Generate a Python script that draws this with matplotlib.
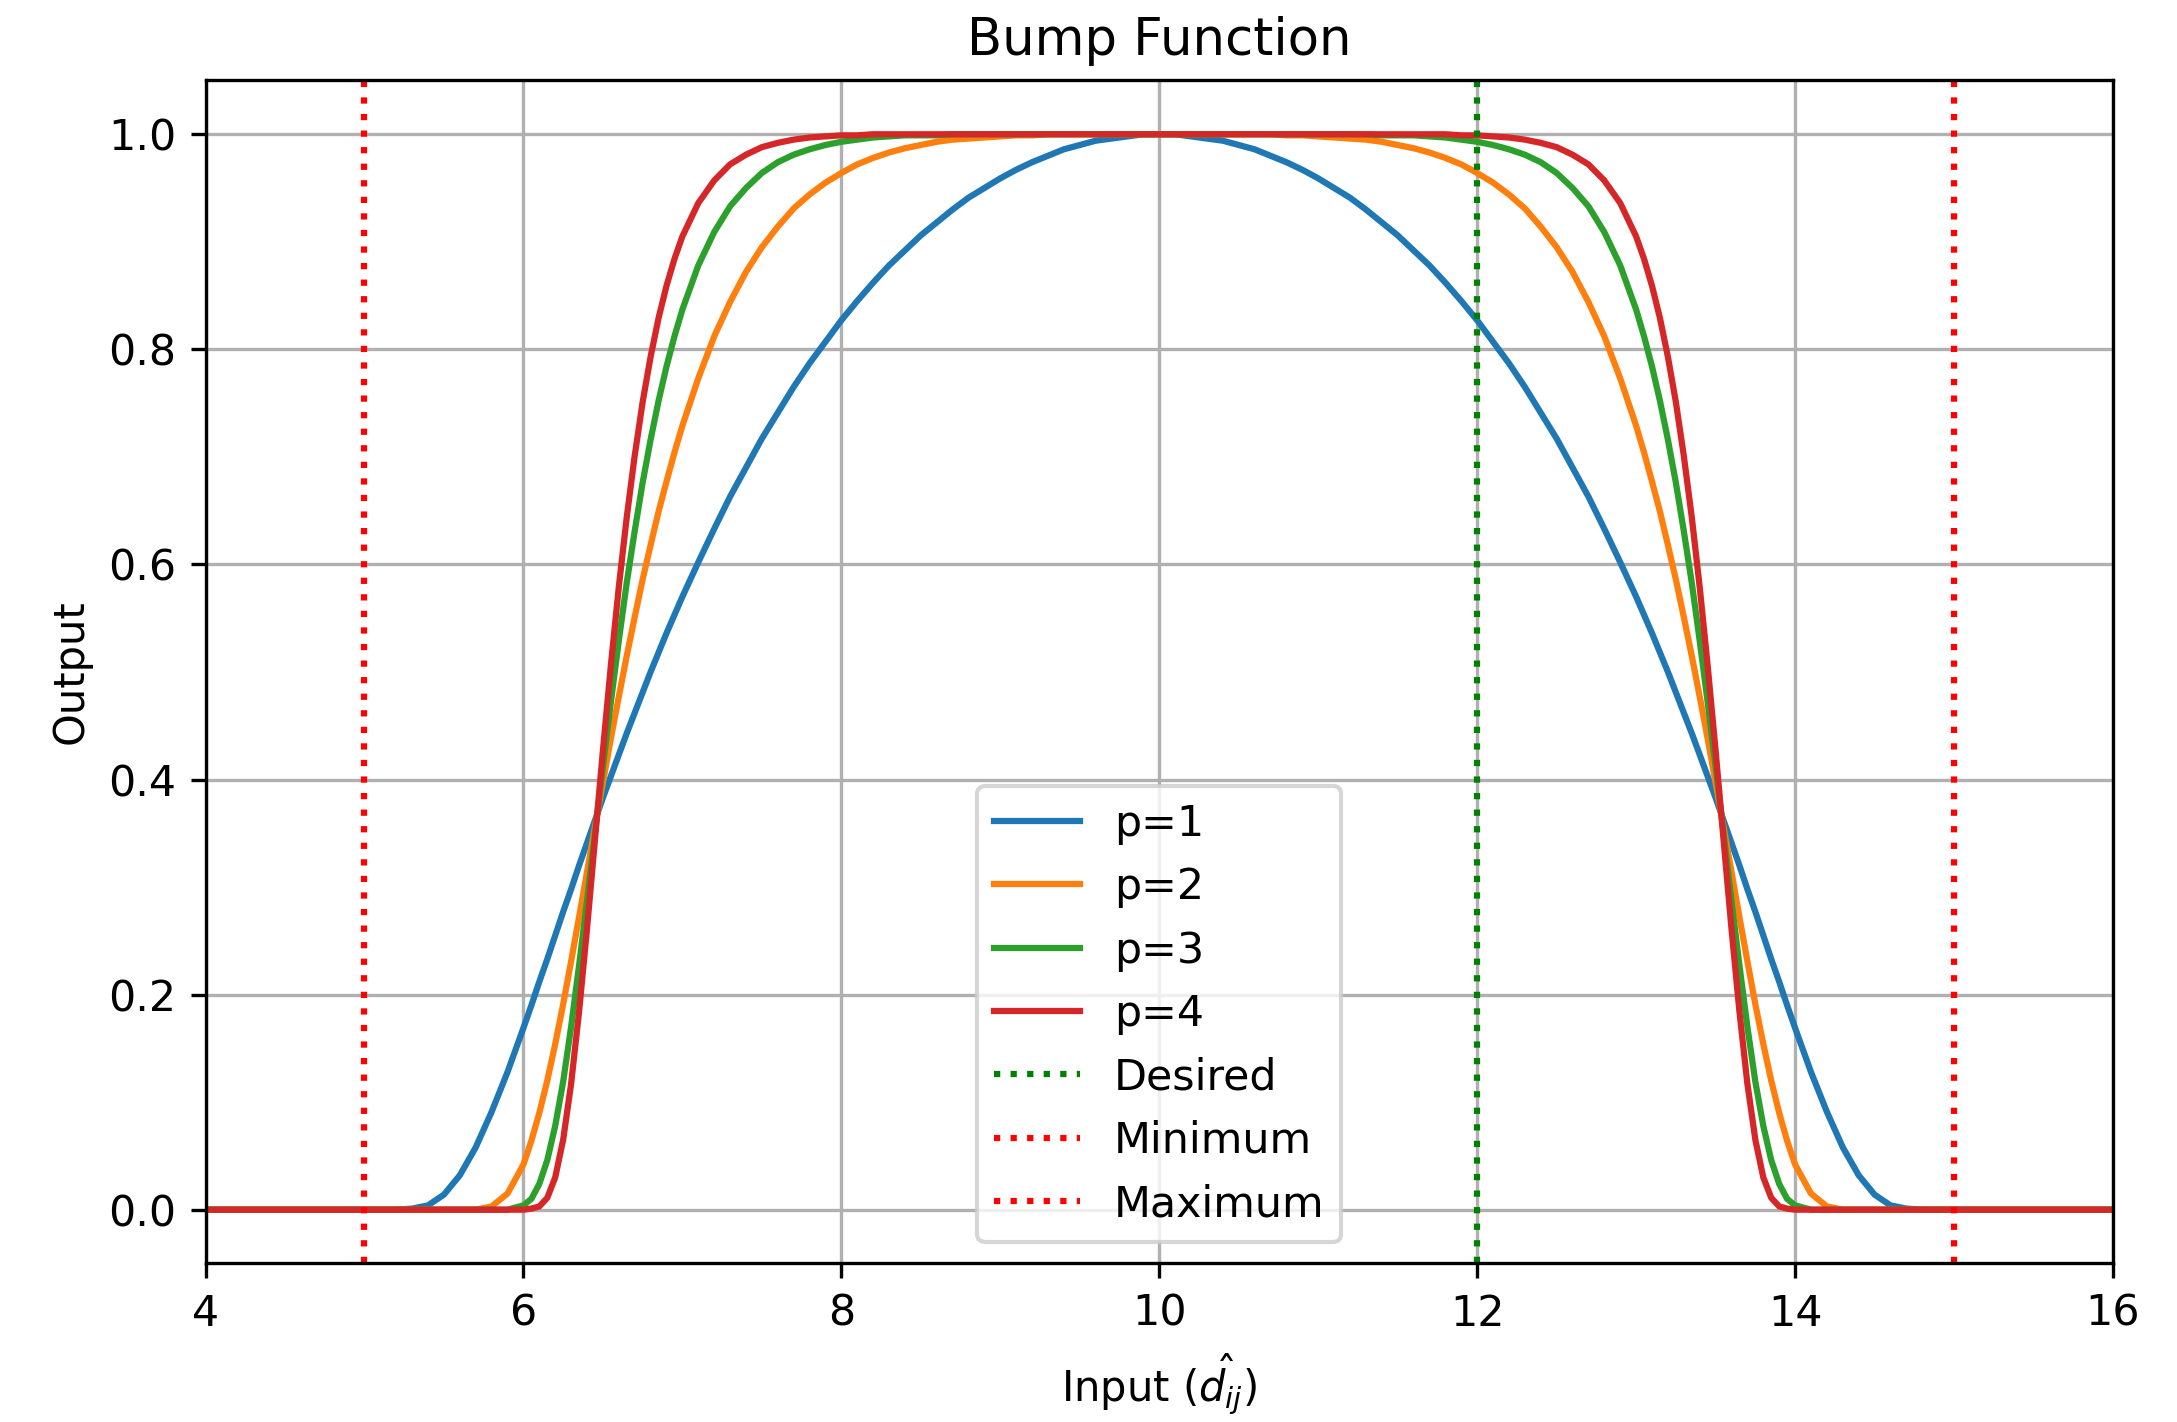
import matplotlib
matplotlib.use("Agg")
import matplotlib.pyplot as plt

# Input positions (x) shared by all curves
x = [4.0, 5.0, 5.2, 5.3, 5.4, 5.5, 5.6, 5.7, 5.8, 5.9,
     6.0, 6.05, 6.1, 6.15, 6.2, 6.25, 6.3, 6.35, 6.4, 6.45, 6.5,
     6.55, 6.6, 6.65, 6.7, 6.75, 6.8, 6.85, 6.9, 6.95, 7.0,
     7.1, 7.2, 7.3, 7.4, 7.5, 7.6, 7.7, 7.8, 7.9, 8.0,
     8.1, 8.2, 8.3, 8.4, 8.5, 8.6, 8.7, 8.8, 8.9, 9.0,
     9.1, 9.2, 9.3, 9.4, 9.5, 9.6, 9.7, 9.8, 9.9,
     10.0,
     10.1, 10.2, 10.3, 10.4, 10.5, 10.6, 10.7, 10.8, 10.9, 11.0,
     11.1, 11.2, 11.3, 11.4, 11.5, 11.6, 11.7, 11.8, 11.9, 12.0,
     12.1, 12.2, 12.3, 12.4, 12.5, 12.6, 12.7, 12.8, 12.9, 13.0,
     13.05, 13.1, 13.15, 13.2, 13.25, 13.3, 13.35, 13.4, 13.45, 13.5,
     13.55, 13.6, 13.65, 13.7, 13.75, 13.8, 13.85, 13.9, 13.95, 14.0,
     14.1, 14.2, 14.3, 14.4, 14.5, 14.6, 14.7, 14.8, 15.0, 16.0]

p1 = ([0.0, 0.0, 0.0, 0.001, 0.004, 0.014, 0.032, 0.058, 0.091, 0.128]
      + [0.169, 0.190, 0.212, 0.233, 0.255, 0.277, 0.298, 0.320, 0.341, 0.362, 0.383,
         0.403, 0.423, 0.443, 0.462, 0.481, 0.500, 0.518, 0.536, 0.553, 0.570]
      + [0.602, 0.633, 0.663, 0.690, 0.717, 0.741, 0.765, 0.787, 0.807, 0.827,
         0.845, 0.862, 0.878, 0.892, 0.906, 0.918, 0.930, 0.941, 0.950, 0.959,
         0.967, 0.974, 0.980, 0.986, 0.990, 0.994, 0.996, 0.998, 1.0]
      + [1.0]
      + [1.0, 0.998, 0.996, 0.994, 0.990, 0.986, 0.980, 0.974, 0.967, 0.959,
         0.950, 0.941, 0.930, 0.918, 0.906, 0.892, 0.878, 0.862, 0.845, 0.827,
         0.807, 0.787, 0.765, 0.741, 0.717, 0.690, 0.663, 0.633, 0.602, 0.570]
      + [0.553, 0.536, 0.518, 0.500, 0.481, 0.462, 0.443, 0.423, 0.403, 0.383,
         0.362, 0.341, 0.320, 0.298, 0.277, 0.255, 0.233, 0.212, 0.190, 0.169]
      + [0.128, 0.091, 0.058, 0.032, 0.014, 0.004, 0.001, 0.0, 0.0, 0.0])

p2 = ([0.0, 0.0, 0.0, 0.0, 0.0, 0.0, 0.0, 0.0, 0.003, 0.015]
      + [0.042, 0.064, 0.090, 0.120, 0.154, 0.191, 0.231, 0.272, 0.314, 0.356, 0.397,
         0.438, 0.477, 0.515, 0.551, 0.586, 0.618, 0.649, 0.677, 0.704, 0.729]
      + [0.773, 0.812, 0.844, 0.872, 0.895, 0.914, 0.931, 0.944, 0.955, 0.964,
         0.972, 0.978, 0.983, 0.987, 0.990, 0.993, 0.995, 0.996, 0.997, 0.998,
         0.999, 0.999, 1.0, 1.0, 1.0, 1.0, 1.0, 1.0, 1.0]
      + [1.0]
      + [1.0, 1.0, 1.0, 1.0, 1.0, 1.0, 1.0, 0.999, 0.999, 0.998,
         0.997, 0.996, 0.995, 0.993, 0.990, 0.987, 0.983, 0.978, 0.972, 0.964,
         0.955, 0.944, 0.931, 0.914, 0.895, 0.872, 0.844, 0.812, 0.773, 0.729]
      + [0.704, 0.677, 0.649, 0.618, 0.586, 0.551, 0.515, 0.477, 0.438, 0.397,
         0.356, 0.314, 0.272, 0.231, 0.191, 0.154, 0.120, 0.090, 0.064, 0.042]
      + [0.015, 0.003, 0.0, 0.0, 0.0, 0.0, 0.0, 0.0, 0.0, 0.0])

p3 = ([0.0, 0.0, 0.0, 0.0, 0.0, 0.0, 0.0, 0.0, 0.0, 0.0]
      + [0.004, 0.010, 0.024, 0.046, 0.078, 0.119, 0.170, 0.227, 0.287, 0.350, 0.412,
         0.472, 0.529, 0.583, 0.631, 0.676, 0.716, 0.752, 0.784, 0.812, 0.837]
      + [0.878, 0.909, 0.933, 0.950, 0.964, 0.974, 0.981, 0.986, 0.990, 0.993,
         0.995, 0.997, 0.998, 0.999, 0.999, 0.999, 1.0, 1.0, 1.0, 1.0,
         1.0, 1.0, 1.0, 1.0, 1.0, 1.0, 1.0, 1.0, 1.0]
      + [1.0]
      + [1.0, 1.0, 1.0, 1.0, 1.0, 1.0, 1.0, 1.0, 1.0, 1.0,
         1.0, 1.0, 1.0, 0.999, 0.999, 0.999, 0.998, 0.997, 0.995, 0.993,
         0.990, 0.986, 0.981, 0.974, 0.964, 0.950, 0.933, 0.909, 0.878, 0.837]
      + [0.812, 0.784, 0.752, 0.716, 0.676, 0.631, 0.583, 0.529, 0.472, 0.412,
         0.350, 0.287, 0.227, 0.170, 0.119, 0.078, 0.046, 0.024, 0.010, 0.004]
      + [0.0, 0.0, 0.0, 0.0, 0.0, 0.0, 0.0, 0.0, 0.0, 0.0])

p4 = ([0.0, 0.0, 0.0, 0.0, 0.0, 0.0, 0.0, 0.0, 0.0, 0.0]
      + [0.0, 0.001, 0.003, 0.011, 0.030, 0.065, 0.117, 0.184, 0.261, 0.344, 0.427,
         0.506, 0.579, 0.644, 0.701, 0.751, 0.793, 0.829, 0.859, 0.884, 0.905]
      + [0.936, 0.957, 0.972, 0.981, 0.988, 0.992, 0.995, 0.997, 0.998, 0.999,
         0.999, 1.0, 1.0, 1.0, 1.0, 1.0, 1.0, 1.0, 1.0, 1.0,
         1.0, 1.0, 1.0, 1.0, 1.0, 1.0, 1.0, 1.0, 1.0]
      + [1.0]
      + [1.0, 1.0, 1.0, 1.0, 1.0, 1.0, 1.0, 1.0, 1.0, 1.0,
         1.0, 1.0, 1.0, 1.0, 1.0, 1.0, 1.0, 1.0, 0.999, 0.999,
         0.998, 0.997, 0.995, 0.992, 0.988, 0.981, 0.972, 0.957, 0.936, 0.905]
      + [0.884, 0.859, 0.829, 0.793, 0.751, 0.701, 0.644, 0.579, 0.506, 0.427,
         0.344, 0.261, 0.184, 0.117, 0.065, 0.030, 0.011, 0.003, 0.001, 0.0]
      + [0.0, 0.0, 0.0, 0.0, 0.0, 0.0, 0.0, 0.0, 0.0, 0.0])

series = [p1, p2, p3, p4]
series_labels = ["p=1", "p=2", "p=3", "p=4"]

desired = 12
minimum = 5
maximum = 15

fig = plt.figure(figsize=(2177 / 300, 1422 / 300), dpi=300)
ax = fig.add_axes([0.0944, 0.1115, 0.8762, 0.8319])

for ys, lab in zip(series, series_labels):
    ax.plot(x, ys, label=lab, linewidth=1.5)

ax.axvline(desired, color="g", linestyle=":", label="Desired")
ax.axvline(minimum, color="r", linestyle=":", label="Minimum")
ax.axvline(maximum, color="r", linestyle=":", label="Maximum")

ax.set_xlim(4, 16)
ax.set_ylim(-0.05, 1.05)
ax.grid(True)
ax.tick_params(labelsize=10.25)
ax.set_title("Bump Function", fontsize=12.3)
ax.set_xlabel(r"Input ($\hat{d_{ij}}$)")
ax.set_ylabel("Output")
ax.legend(loc="lower center", fontsize=10.25)

fig.savefig("out.png", dpi=300)
